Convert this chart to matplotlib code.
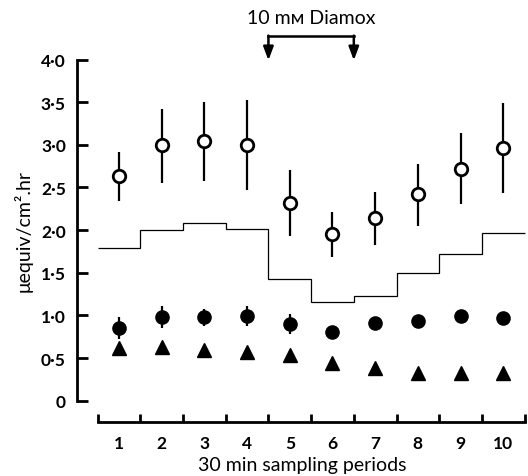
import numpy as np
import matplotlib.pyplot as plt

# --- data ---
periods = np.arange(1, 11)
open_mean = [2.63, 3.00, 3.04, 3.00, 2.32, 1.95, 2.14, 2.42, 2.72, 2.96]
open_hi = [2.92, 3.42, 3.50, 3.52, 2.70, 2.21, 2.45, 2.78, 3.14, 3.49]
open_lo = [2.34, 2.55, 2.57, 2.47, 1.93, 1.69, 1.82, 2.05, 2.31, 2.44]
filled_mean = [0.85, 0.98, 0.98, 0.99, 0.90, 0.80, 0.91, 0.93, 0.99, 0.97]
filled_err = [0.13, 0.13, 0.10, 0.12, 0.12, 0.0, 0.0, 0.0, 0.0, 0.0]
tri_mean = [0.62, 0.63, 0.59, 0.57, 0.53, 0.44, 0.38, 0.33, 0.33, 0.33]
step_vals = [1.79, 2.00, 2.08, 2.01, 1.43, 1.16, 1.23, 1.50, 1.72, 1.97]
diamox_periods = (5, 6)
yticks = [0, 0.5, 1.0, 1.5, 2.0, 2.5, 3.0, 3.5, 4.0]
ytick_labels = ['0', '0·5', '1·0', '1·5', '2·0', '2·5', '3·0', '3·5', '4·0']

plt.rcParams['font.family'] = ['Lato', 'DejaVu Sans']

fig = plt.figure(figsize=(5.28, 4.77), dpi=100)
ax = fig.add_axes([77 / 528, 1 - 401.7 / 477, 451 / 528, (401.7 - 60.5) / 477])
ax.set_xlim(0.016, 10.58)
ax.set_ylim(0, 4.0)

# step outline
edges = np.arange(0.5, 11.0, 1.0)
ax.stairs(step_vals, edges, color='black', lw=0.9, baseline=None)

# open circles with error bars
oe = [np.array(open_mean) - np.array(open_lo), np.array(open_hi) - np.array(open_mean)]
ax.errorbar(periods, open_mean, yerr=oe, fmt='o', ms=9, mfc='white', mec='black',
            mew=2.0, ecolor='black', elinewidth=1.6, capsize=0, zorder=3)

# filled circles
ax.errorbar(periods, filled_mean, yerr=filled_err, fmt='o', ms=9.5, color='black',
            elinewidth=1.6, capsize=0, zorder=3)

# triangles
ax.plot(periods, tri_mean, '^', ms=10, color='black', zorder=3)

# Diamox bracket
x0, x1 = diamox_periods[0] - 0.5, diamox_periods[1] + 0.5
ybar = 4.27
ax.plot([x0, x1], [ybar, ybar], color='black', lw=1.8, clip_on=False)
for xa in (x0, x1):
    ax.annotate('', xy=(xa, 3.99), xytext=(xa, ybar + 0.01), xycoords='data',
                annotation_clip=False,
                arrowprops=dict(arrowstyle='-|>,head_length=0.8,head_width=0.3',
                                color='black', lw=1.8, shrinkA=0, shrinkB=0))
ax.text((x0 + x1) / 2, 4.49, '10 mᴍ Diamox', ha='center', va='center', fontsize=14)

# axes styling
for s in ('top', 'right'):
    ax.spines[s].set_visible(False)
ax.spines['left'].set_linewidth(2.0)
ax.spines['left'].set_bounds(0, 4.0)
ax.spines['bottom'].set_linewidth(2.0)
ax.spines['bottom'].set_position(('outward', 15))
ax.spines['bottom'].set_bounds(edges[0], edges[-1])

ax.set_yticks(yticks)
ax.set_yticklabels(ytick_labels, fontweight='bold')
ax.tick_params(axis='y', direction='in', length=8, width=2.0, pad=8, labelsize=12.5)

ax.set_xticks(periods)
ax.set_xticklabels([str(p) for p in periods], fontweight='bold')
ax.set_xticks(edges, minor=True)
ax.tick_params(axis='x', which='major', length=0, pad=10, labelsize=12.5)
ax.tick_params(axis='x', which='minor', direction='in', length=6, width=2.0)

ax.set_xlabel('30 min sampling periods', fontsize=14, labelpad=3.5)
ax.set_ylabel('μequiv/cm².hr', fontsize=14, labelpad=6)

fig.savefig('out.png', dpi=100)
